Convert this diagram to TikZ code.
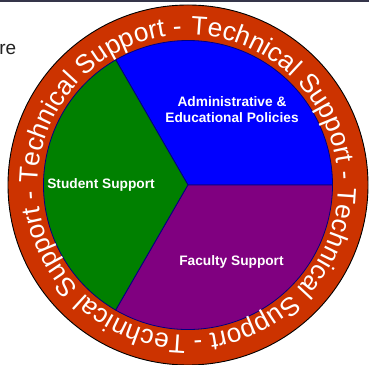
\documentclass[tikz,border=0pt]{standalone}
\usepackage{fontspec}
\setmainfont{Liberation Sans}
\usetikzlibrary{decorations.text}
\definecolor{ringred}{HTML}{CC3300}
\definecolor{adminblue}{HTML}{0000FF}
\definecolor{studentgreen}{HTML}{008000}
\definecolor{facultypurple}{HTML}{800080}
\definecolor{edgenavy}{HTML}{000080}
\definecolor{framegray}{HTML}{35354A}
\definecolor{textgray}{HTML}{222222}
\newcommand{\ringfont}{\fontsize{26.3}{30}\selectfont}
\begin{document}
\begin{tikzpicture}[x=1pt,y=1pt,
  sectorlabel/.style={text=white, font=\fontsize{13.7}{16}\selectfont\bfseries, align=center, inner sep=0},
  sector/.style={draw=edgenavy, line width=0.8pt, line join=round}]
\useasboundingbox (0,0) rectangle (369,364);
% frame edge and cut-off word at the top left
\fill[framegray] (0,362.4) rectangle (369,364);
\node[anchor=base east, font=\fontsize{19}{22}\selectfont, text=textgray, inner sep=0] (cut) at (16.5,309) {re};
% outer ring
\coordinate (C) at (188,179);
\fill[ringred, draw=black, line width=0.9pt] (C) circle[radius=180];
% three sectors
\filldraw[sector, fill=adminblue] (C) -- ++(0:144.5) arc[start angle=0, end angle=120, radius=144.5] -- cycle;
\filldraw[sector, fill=studentgreen] (C) -- ++(120:144.5) arc[start angle=120, end angle=240, radius=144.5] -- cycle;
\filldraw[sector, fill=facultypurple] (C) -- ++(240:144.5) arc[start angle=240, end angle=360, radius=144.5] -- cycle;
% sector labels
\node[sectorlabel] (admin) at (232,254) {Administrative \&\\Educational Policies};
\node[sectorlabel] (student) at (101,179) {Student Support};
\node[sectorlabel] (faculty) at (231.5,102) {Faculty Support};
% text running clockwise round the ring, four times over
\path[decorate, decoration={text along path, text color=white,
  text={|\ringfont|Technical Support - Technical Support - Technical Support - Technical Support -}}]
  ([shift={(89:150)}]C) arc[start angle=89, end angle=-282, radius=150];
\end{tikzpicture}
\end{document}
